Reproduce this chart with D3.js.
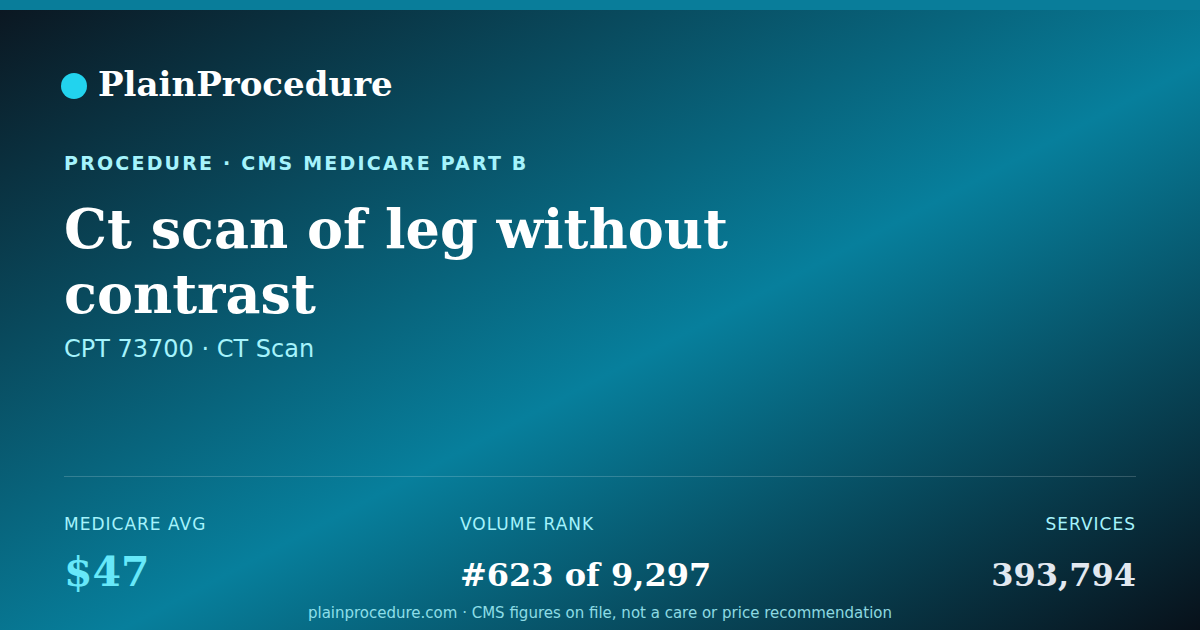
<!DOCTYPE html>
<html>
<head>
<meta charset="utf-8">
<script src="https://cdn.jsdelivr.net/npm/d3@7/dist/d3.min.js"></script>
<style>
  html, body { margin: 0; padding: 0; background: #0b1b26; }
  svg { display: block; }
</style>
</head>
<body>
<div id="card"></div>
<script>
// card content
const brand = 'PlainProcedure';
const kicker = 'PROCEDURE · CMS MEDICARE PART B';
const titleLines = ['Ct scan of leg without', 'contrast'];
const subtitle = 'CPT 73700 · CT Scan';
const statLabels = ['MEDICARE AVG', 'VOLUME RANK', 'SERVICES'];
const statValues = ['$47', '#623 of 9,297', '393,794'];
const footer = 'plainprocedure.com · CMS figures on file, not a care or price recommendation';

const w = 1200;
const h = 630;
const left = 64;
const right = 1136;

const svg = d3.select('#card')
  .append('svg')
  .attr('width', w)
  .attr('height', h);

const defs = svg.append('defs');
const grad = defs.append('linearGradient')
  .attr('id', 'bg')
  .attr('x1', 0).attr('y1', 0)
  .attr('x2', 1).attr('y2', 1);
grad.append('stop').attr('offset', '0%').attr('stop-color', '#0b1620');
grad.append('stop').attr('offset', '55%').attr('stop-color', '#077f9c');
grad.append('stop').attr('offset', '100%').attr('stop-color', '#08111a');

svg.append('rect')
  .attr('width', w)
  .attr('height', h)
  .attr('fill', 'url(#bg)');

// top strip
svg.append('rect')
  .attr('width', w)
  .attr('height', 10)
  .attr('fill', '#097d9a');

// brand
svg.append('circle')
  .attr('cx', 74)
  .attr('cy', 86)
  .attr('r', 13)
  .attr('fill', '#22d3ee');

svg.append('text')
  .attr('x', 98)
  .attr('y', 96)
  .style('font-family', 'DejaVu Serif')
  .style('font-weight', 'bold')
  .style('font-size', '34px')
  .style('fill', '#ffffff')
  .text(brand);

svg.append('text')
  .attr('x', left)
  .attr('y', 170)
  .style('font-family', 'DejaVu Sans')
  .style('font-weight', 'bold')
  .style('font-size', '19px')
  .style('letter-spacing', '2.2px')
  .style('fill', '#a5f3fc')
  .text(kicker);

// title
svg.selectAll('.title-line')
  .data(titleLines)
  .enter()
  .append('text')
  .attr('class', 'title-line')
  .attr('x', left)
  .attr('y', (d, i) => 248 + i * 65)
  .style('font-family', 'DejaVu Serif')
  .style('font-weight', 'bold')
  .style('font-size', '54px')
  .style('fill', '#ffffff')
  .text(d => d);

svg.append('text')
  .attr('x', left)
  .attr('y', 357)
  .style('font-family', 'DejaVu Sans')
  .style('font-size', '24px')
  .style('fill', '#a5f3fc')
  .text(subtitle);

// divider
svg.append('line')
  .attr('x1', left)
  .attr('x2', right)
  .attr('y1', 476.5)
  .attr('y2', 476.5)
  .style('stroke', 'rgba(255,255,255,0.18)')
  .style('stroke-width', 1);

// stats row
const colX = d3.scaleOrdinal().domain(statLabels).range([left, 460, right]);
const colAnchor = d3.scaleOrdinal().domain(statLabels).range(['start', 'start', 'end']);
const valColor = d3.scaleOrdinal().domain(statLabels).range(['#67e8f9', '#ffffff', '#e2e8f0']);
const valSize = d3.scaleOrdinal().domain(statLabels).range(['41px', '32px', '32px']);

const stat = svg.selectAll('.stat')
  .data(statLabels)
  .enter()
  .append('g')
  .attr('class', 'stat');

stat.append('text')
  .attr('x', d => colX(d))
  .attr('y', 530)
  .attr('text-anchor', d => colAnchor(d))
  .style('font-family', 'DejaVu Sans')
  .style('font-size', '17px')
  .style('letter-spacing', '1px')
  .style('fill', '#a5f3fc')
  .text(d => d);

stat.append('text')
  .attr('x', d => colX(d))
  .attr('y', 586)
  .attr('text-anchor', d => colAnchor(d))
  .style('font-family', 'DejaVu Serif')
  .style('font-weight', 'bold')
  .style('font-size', d => valSize(d))
  .style('fill', d => valColor(d))
  .text((d, i) => statValues[i]);

svg.append('text')
  .attr('x', w / 2)
  .attr('y', 618)
  .attr('text-anchor', 'middle')
  .style('font-family', 'DejaVu Sans')
  .style('font-size', '15px')
  .style('fill', '#a5f3fc')
  .style('opacity', 0.85)
  .text(footer);
</script>
</body>
</html>
